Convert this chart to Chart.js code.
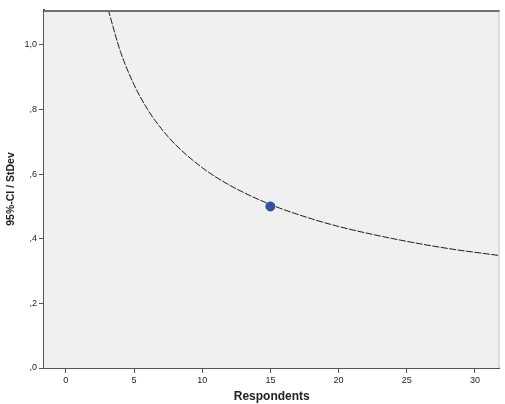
<!DOCTYPE html>
<html>
<head>
<meta charset="utf-8">
<script src="https://cdn.jsdelivr.net/npm/chart.js@4"></script>
<style>
  html, body { margin: 0; padding: 0; background: #ffffff; }
  #wrap { width: 505px; height: 404px; }
</style>
</head>
<body>
<div id="wrap"><canvas id="ciChart" width="505" height="404"></canvas></div>
<script>
// curve (respondents -> 95%-CI / StDev)
var curveN = [3.1, 4, 5, 6, 7, 8, 10, 12, 15, 18, 20, 22, 25, 28, 31.8];
var curveRatio = [1.11, 0.98, 0.877, 0.80, 0.741, 0.693, 0.62, 0.566, 0.506, 0.462, 0.438, 0.418, 0.392, 0.370, 0.348];

// highlighted point
var markN = [15];
var markRatio = [0.50];

var xTicks = [0, 5, 10, 15, 20, 25, 30];
var yTicks = [0, 0.2, 0.4, 0.6, 0.8, 1.0];

function toPoints(xs, ys) {
  return xs.map(function (x, i) {
    return { x: x, y: ys[i] };
  });
}

function commaLabel(v) {
  var s = (Math.round(v * 10) / 10).toFixed(1).replace('.', ',');
  if (s.charAt(0) === '0') s = s.substring(1);
  return s;
}

// grey plot background and the frame round it
var plotFrame = {
  id: 'plotFrame',
  beforeDatasetsDraw: function (chart) {
    var a = chart.chartArea, ctx = chart.ctx;
    ctx.save();
    ctx.fillStyle = '#f0f0f0';
    ctx.fillRect(a.left, a.top, a.right - a.left, a.bottom - a.top);
    ctx.restore();
  },
  afterDatasetsDraw: function (chart) {
    var a = chart.chartArea, ctx = chart.ctx;
    ctx.save();
    ctx.lineWidth = 1;
    ctx.strokeStyle = '#c8c8c8';
    ctx.beginPath();
    ctx.moveTo(a.right - 0.5, a.top);
    ctx.lineTo(a.right - 0.5, a.bottom);
    ctx.stroke();
    ctx.lineWidth = 2;
    ctx.strokeStyle = '#6e6e6e';
    ctx.beginPath();
    ctx.moveTo(a.left, a.top + 1);
    ctx.lineTo(a.right, a.top + 1);
    ctx.stroke();
    ctx.restore();
  }
};

var ctx = document.getElementById('ciChart').getContext('2d');
var ciChart = new Chart(ctx, {
  type: 'scatter',
  data: {
    datasets: [{
      label: 'curve',
      data: toPoints(curveN, curveRatio),
      showLine: true,
      borderColor: '#1e1e1e',
      borderWidth: 1,
      borderDash: [7, 1.5],
      pointRadius: 0,
      cubicInterpolationMode: 'monotone',
      order: 2
    }, {
      label: 'mark',
      data: toPoints(markN, markRatio),
      backgroundColor: '#33529f',
      borderColor: '#2a4590',
      borderWidth: 1,
      pointRadius: 4.5,
      order: 1
    }]
  },
  options: {
    responsive: false,
    animation: false,
    layout: { padding: { top: 10, right: 4, left: 0, bottom: 0 } },
    plugins: {
      legend: { display: false },
      tooltip: { enabled: false }
    },
    scales: {
      x: {
        type: 'linear',
        min: -1.6,
        max: 31.8,
        afterFit: function (scale) { scale.height = 36; },
        afterBuildTicks: function (scale) {
          scale.ticks = xTicks.map(function (v) { return { value: v }; });
        },
        ticks: {
          color: '#222222',
          font: { family: 'Liberation Sans', size: 9 },
          padding: 2,
          maxRotation: 0,
          callback: function (v) { return String(v); }
        },
        grid: {
          drawOnChartArea: false,
          tickLength: 5,
          tickColor: '#555555'
        },
        border: { color: '#555555', width: 2 },
        title: {
          display: true,
          text: 'Respondents',
          color: '#222222',
          font: { family: 'Liberation Sans', size: 12, weight: 'bold' },
          padding: { top: 3, bottom: 0 }
        }
      },
      y: {
        type: 'linear',
        min: 0,
        max: 1.108,
        afterFit: function (scale) { scale.width = 44; },
        afterBuildTicks: function (scale) {
          scale.ticks = yTicks.map(function (v) { return { value: v }; });
        },
        ticks: {
          color: '#222222',
          font: { family: 'Liberation Sans', size: 9 },
          padding: 2,
          callback: function (v) { return commaLabel(v); }
        },
        grid: {
          drawOnChartArea: false,
          tickLength: 5,
          tickColor: '#555555'
        },
        border: { color: '#555555', width: 2 },
        title: {
          display: true,
          text: '95%-CI / StDev',
          color: '#222222',
          font: { family: 'Liberation Sans', size: 10.5, weight: 'bold' },
          padding: { top: 5, bottom: 0 }
        }
      }
    }
  },
  plugins: [plotFrame]
});
</script>
</body>
</html>
